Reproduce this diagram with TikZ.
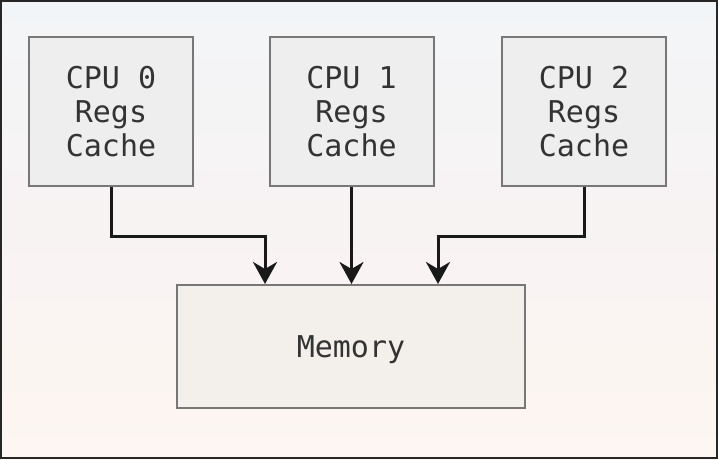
\documentclass[tikz,border=0pt]{standalone}
\usepackage{fontspec}
\setmonofont{DejaVu Sans Mono}
\usetikzlibrary{arrows.meta,calc}
\definecolor{boxfill}{HTML}{EEEEEE}
\definecolor{memfill}{HTML}{F3F0EC}
\definecolor{boxline}{HTML}{777777}
\definecolor{txt}{HTML}{333333}
\definecolor{bgtop}{HTML}{F2F5F7}
\definecolor{bgmid}{HTML}{F8F3F3}
\definecolor{bgbot}{HTML}{FDF6F2}
\begin{document}
\begin{tikzpicture}[x=1pt,y=-1pt,
  unit/.style={draw=boxline, line width=2pt, fill=boxfill, text=txt,
    minimum width=164pt, minimum height=149pt, inner sep=0pt, align=center,
    font=\ttfamily\fontsize{30}{34}\selectfont},
  membox/.style={unit, fill=memfill, minimum width=348pt, minimum height=123pt,
    text depth=0pt},
  link/.style={draw=black!90, line width=3pt,
    -{Stealth[length=22pt, width=24pt, inset=7pt]}}]
  % canvas and frame
  \fill[top color=bgtop, bottom color=bgbot, middle color=bgmid] (0,0) rectangle (718,460);
  \useasboundingbox (0,0) rectangle (718,460);
  \draw[line width=2pt, black!85] (1,1) rectangle (717,458);
  % processors
  \node[unit] (cpu0) at (111,111.5) {CPU 0\\Regs\\Cache};
  \node[unit] (cpu1) at (351.5,111.5) {CPU 1\\Regs\\Cache};
  \node[unit] (cpu2) at (584,111.5) {CPU 2\\Regs\\Cache};
  % shared memory
  \node[membox] (mem) at (351,346.5) {Memory};
  % connections
  \draw[link] (cpu0.south) -- ++(0,49) -| ($(mem.north)+(-86,0)$);
  \draw[link] (cpu1.south) -- (cpu1.south |- mem.north);
  \draw[link] (cpu2.south) -- ++(0,49) -| ($(mem.north)+(87,0)$);
\end{tikzpicture}
\end{document}
